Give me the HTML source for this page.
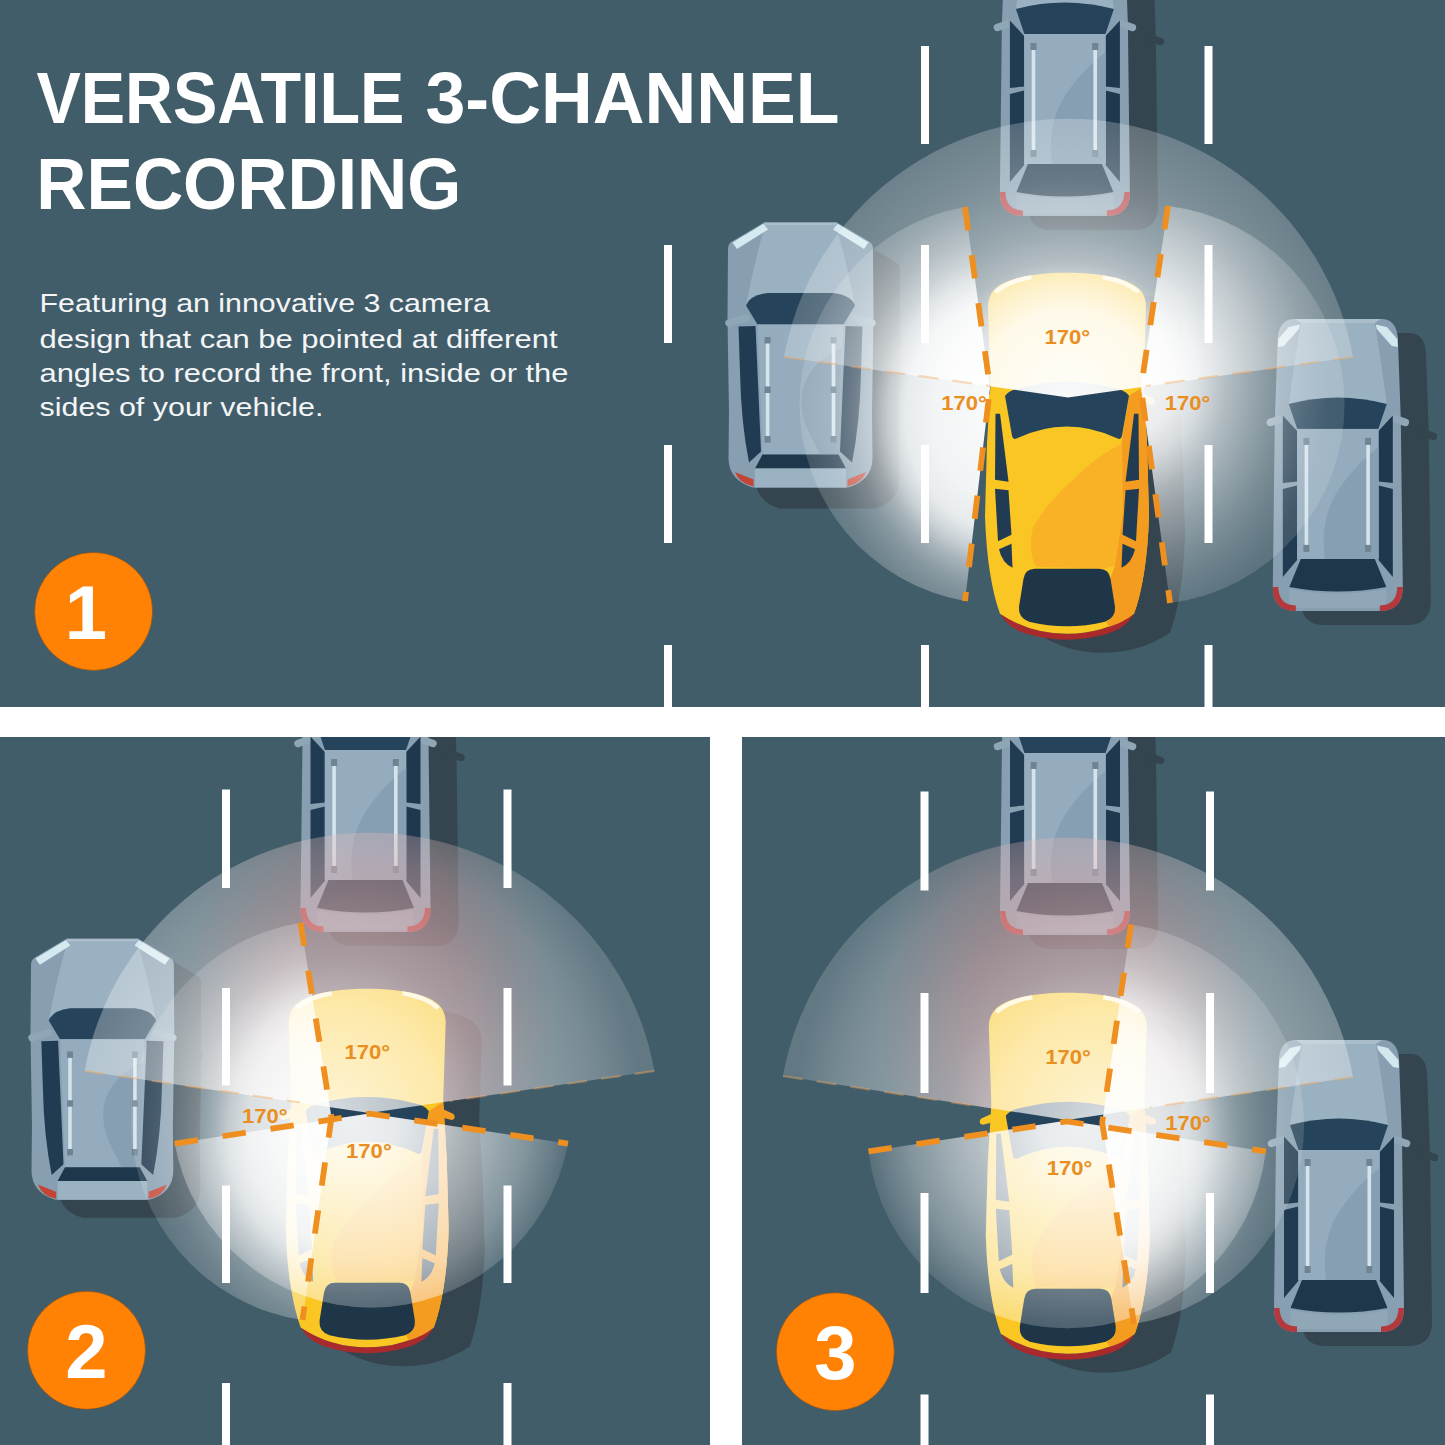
<!DOCTYPE html>
<html lang="en"><head><meta charset="utf-8"><title>Versatile 3-Channel Recording</title>
<style>html,body{margin:0;padding:0;background:#fff;width:1445px;height:1445px;overflow:hidden}svg{display:block}text{font-family:"Liberation Sans",sans-serif}</style></head><body>
<svg width="1445" height="1445" viewBox="0 0 1445 1445">
<defs>
<clipPath id="c1"><rect x="0" y="0" width="1445" height="707"/></clipPath>
<clipPath id="c2"><rect x="0" y="737" width="710" height="708"/></clipPath>
<clipPath id="c3"><rect x="742" y="737" width="703" height="708"/></clipPath>
<g id="wagon"><path d="M20,0 L110,0 Q123,1 125,18 L128,100 L130,268 Q130,292 106,292 L24,292 Q0,292 0,268 L2,100 L5,18 Q7,1 20,0 Z" fill="#879fb1"/>
<path d="M9,99.5 L-2.5,103.5" stroke="#8fa6b7" stroke-width="7.5" stroke-linecap="round" fill="none"/>
<path d="M121,99.5 L132.5,103.5" stroke="#8fa6b7" stroke-width="7.5" stroke-linecap="round" fill="none"/>
<path d="M28,4 L102,4 Q108,40 114,85 Q65,73 16,85 Q22,40 28,4 Z" fill="#9ab1c1"/>
<path d="M22,0 L108,0 L102,4 L28,4 Z" fill="#a9bdcb"/>
<polygon points="5.0,28.0 5.5,20.0 16.0,8.0 27.0,5.5 26.0,10.0 11.0,27.0" fill="#d2e7ee" />
<polygon points="125.0,28.0 124.5,20.0 114.0,8.0 103.0,5.5 104.0,10.0 119.0,27.0" fill="#d2e7ee" />
<path d="M16,85 Q65,72 114,85 L105.5,110 L24.5,110 Z" fill="#25435a"/>
<polygon points="10.0,96.5 24.3,112.0 24.3,162.5 10.0,164.0" fill="#213c52" />
<polygon points="120.0,96.5 105.7,112.0 105.7,162.5 120.0,164.0" fill="#1f384d" />
<polygon points="10.0,170.0 24.3,166.5 24.3,241.0 10.0,258.0" fill="#213c52" />
<polygon points="120.0,170.0 105.7,166.5 105.7,241.0 120.0,258.0" fill="#1f384d" />
<rect x="24.3" y="110" width="81.4" height="130" fill="#94acbd"/>
<path d="M105.7,128 C90,140 76,155 65,172 C52,192 49,215 52,240 L105.7,240 Z" fill="#879fb2"/>
<rect x="31.8" y="124" width="3.6" height="104" fill="#d5e3eb"/>
<rect x="30.6" y="119" width="6" height="7" fill="#6f8493"/>
<rect x="30.6" y="226" width="6" height="7" fill="#6f8493"/>
<rect x="93.5" y="124" width="3.6" height="104" fill="#d5e3eb"/>
<rect x="92.3" y="119" width="6" height="7" fill="#6f8493"/>
<rect x="92.3" y="226" width="6" height="7" fill="#6f8493"/>
<path d="M28,240 L102,240 L113.5,268 Q65,277 16.5,268 Z" fill="#1e374b"/>
<path d="M16.5,270 Q65,279 113.5,270 L113.5,289 L16.5,289 Z" fill="#90a7b8"/>
<path d="M0,268 Q0,292 23,292 L23,286.5 Q6,286 5.5,268 Z" fill="#b4393c"/>
<path d="M130,268 Q130,292 107,292 L107,286.5 Q124,286 124.5,268 Z" fill="#b4393c"/></g>
<g id="wagonS"><path d="M20,0 L110,0 Q123,1 125,18 L128,100 L130,268 Q130,292 106,292 L24,292 Q0,292 0,268 L2,100 L5,18 Q7,1 20,0 Z"/><path d="M121,99.5 L132.5,103.5" stroke="#34454f" stroke-width="7.5" stroke-linecap="round" fill="none"/></g>
<g id="hatch"><path d="M36,0 L109,0 L141,19 Q145,21 145,27 L145.5,97 L144,190 L144.5,236 Q144,258 120,265 L25,265 Q1,258 0.5,236 L1,190 L-0.5,97 L0,27 Q0,21 4,19 Z" fill="#879fb1"/>
<path d="M18,95.5 L1,100.5" stroke="#8fa6b7" stroke-width="7.5" stroke-linecap="round" fill="none"/>
<path d="M127,95.5 L144,100.5" stroke="#8fa6b7" stroke-width="7.5" stroke-linecap="round" fill="none"/>
<path d="M37,3 L108,3 Q120,45 127,83 Q122,72 105,70.5 L40,70.5 Q23,72 18,83 Q25,45 37,3 Z" fill="#9ab1c1"/>
<path d="M36,0 L109,0 L108,3 L37,3 Z" fill="#a9bdcb"/>
<polygon points="4.5,20.0 35.5,1.2 40.0,7.0 9.0,26.5" fill="#d5eaf0" />
<polygon points="140.5,20.0 109.5,1.2 105.0,7.0 136.0,26.5" fill="#d5eaf0" />
<path d="M18,83 Q22,72.5 40,70.5 L105,70.5 Q123,72.5 127,83 L115.5,102 L29.5,102 Z" fill="#25435a"/>
<path d="M10.5,104 L27.5,103.5 L33,229 L21,240 Q13,200 12,150 Z" fill="#213c52"/>
<path d="M134.5,104 L117.5,103.5 L112,229 L124,240 Q132,200 133,150 Z" fill="#1f384d"/>
<path d="M29.5,102 L115.5,102 L110.5,232 L34.5,232 Z" fill="#94acbd"/>
<path d="M114,125 C92,135 78,150 74,170 C70,195 84,215 92,232 L110.5,232 Z" fill="#879fb2"/>
<rect x="37.8" y="120" width="3.6" height="94" fill="#d5e3eb"/>
<rect x="36.6" y="114.5" width="6" height="6.5" fill="#6f8493"/>
<rect x="36.6" y="164" width="6" height="6.5" fill="#6f8493"/>
<rect x="36.6" y="213.5" width="6" height="6.5" fill="#6f8493"/>
<rect x="103.7" y="120" width="3.6" height="94" fill="#d5e3eb"/>
<rect x="102.5" y="114.5" width="6" height="6.5" fill="#6f8493"/>
<rect x="102.5" y="164" width="6" height="6.5" fill="#6f8493"/>
<rect x="102.5" y="213.5" width="6" height="6.5" fill="#6f8493"/>
<path d="M34.5,232 L110.5,232 L118,246 L27,246 Z" fill="#1e374b"/>
<path d="M27,246 L118,246 L118,265 L27,265 Z" fill="#9bb2c2"/>
<path d="M7,249.5 L25.5,257 L25.5,264 Q11,261 7,249.5 Z" fill="#c44535"/>
<path d="M138,249.5 L119.5,257 L119.5,264 Q134,261 138,249.5 Z" fill="#c44535"/></g>
<g id="hatchS"><path d="M36,0 L109,0 L141,19 Q145,21 145,27 L145.5,97 L144,190 L144.5,236 Q144,258 120,265 L25,265 Q1,258 0.5,236 L1,190 L-0.5,97 L0,27 Q0,21 4,19 Z"/><path d="M127,95.5 L144,100.5" stroke="#34454f" stroke-width="7.5" stroke-linecap="round" fill="none"/></g>
<g id="ycar"><path d="M13,335 Q18,353 40,360.5 Q82,373.5 124,360.5 Q146,353 151,335 L149,341 Q119,361 82,361 Q45,361 15,341 Z" fill="#a82a2d"/>
<path d="M82,0 C50,0 22,5 10,16 Q3,23 3,34 L5.5,112 L2,170 L0,243 Q1,275 5,300 Q9,325 15,341 Q45,361 82,361 Q119,361 149,341 Q155,325 159,300 Q163,275 164,243 L162,170 L158.5,112 L161,34 Q161,23 154,16 C142,5 114,0 82,0 Z" fill="#f9c623"/>
<path d="M9,18 Q22,6 46,2.5 L47,6.5 Q25,10 12,21 Z" fill="#fff3cf"/>
<path d="M155,18 Q142,6 118,2.5 L117,6.5 Q139,10 152,21 Z" fill="#fff3cf"/>
<path d="M6,121 L-5,126 Q-8,131 -3,132 L5,130 Z" fill="#f9c623"/>
<path d="M158,121 L169,126 Q172,131 167,132 L159,130 Z" fill="#f39c1f"/>
<path d="M137,167 L144,123 L158.5,114 L162,170 L164,243 Q163,275 159,300 Q155,325 149,341 Q138,350 124,354 L121,349 Q131,345 130,334 L125,306 L130,293 Z" fill="#f39c1f"/>
<path d="M137,171 C112,183 98,198 91,204 C72,222 58,236 48,255 C44,270 46,285 51,294 L118,296 L130,293 L138,240 Z" fill="#f9b226"/>
<path d="M20,123 Q24,117 36,115 Q82,103 128,115 Q140,117 144,123 L137,163 Q136,167.5 132,165.5 Q82,142 32,165.5 Q28,167.5 27,163 Z" fill="#25435a"/>
<path d="M10.5,141 L15,141 L23.5,209 L10,207 Z" fill="#213c52"/><path d="M10,216 L23.5,217.5 L26.5,262 L13,268.5 Z" fill="#213c52"/><path d="M14,276.5 L26.5,271 L27.5,295 Q17,290 14,276.5 Z" fill="#213c52"/>
<path d="M153.5,141 L149,141 L140.5,209 L154,207 Z" fill="#213c52"/><path d="M154,216 L140.5,217.5 L137.5,262 L151,268.5 Z" fill="#213c52"/><path d="M150,276.5 L137.5,271 L136.5,295 Q147,290 150,276.5 Z" fill="#213c52"/>
<path d="M50,296 L114,296 Q124,296 125.5,306 L130,334 Q131,345 120,349 Q82,358 44,349 Q33,345 34,334 L38.5,306 Q40,296 50,296 Z" fill="#1e3648"/></g>
<g id="ycarS"><path d="M82,0 C50,0 22,5 10,16 Q3,23 3,34 L5.5,112 L2,170 L0,243 Q1,275 5,300 Q9,325 15,341 Q45,361 82,361 Q119,361 149,341 Q155,325 159,300 Q163,275 164,243 L162,170 L158.5,112 L161,34 Q161,23 154,16 C142,5 114,0 82,0 Z"/></g>
<g id="ycarRW"><path d="M50,296 L114,296 Q124,296 125.5,306 L130,334 Q131,345 120,349 Q82,358 44,349 Q33,345 34,334 L38.5,306 Q40,296 50,296 Z"/></g>
<radialGradient id="g1f" gradientUnits="userSpaceOnUse" cx="1068" cy="397" r="289"><stop offset="0" stop-color="#fff" stop-opacity="0.97"/><stop offset="0.3" stop-color="#fff" stop-opacity="0.9"/><stop offset="0.4" stop-color="#fff" stop-opacity="0.75"/><stop offset="0.47" stop-color="#fff" stop-opacity="0.6"/><stop offset="0.58" stop-color="#fff" stop-opacity="0.47"/><stop offset="0.75" stop-color="#fff" stop-opacity="0.33"/><stop offset="1" stop-color="#fff" stop-opacity="0.21"/></radialGradient>
<radialGradient id="g1l" gradientUnits="userSpaceOnUse" cx="1000" cy="415" r="225" gradientTransform="translate(1000,415) scale(1,1.2) translate(-1000,-415)"><stop offset="0" stop-color="#fff" stop-opacity="0.98"/><stop offset="0.3" stop-color="#fff" stop-opacity="0.93"/><stop offset="0.42" stop-color="#fff" stop-opacity="0.88"/><stop offset="0.5" stop-color="#fff" stop-opacity="0.72"/><stop offset="0.57" stop-color="#fff" stop-opacity="0.52"/><stop offset="0.65" stop-color="#fff" stop-opacity="0.36"/><stop offset="0.77" stop-color="#fff" stop-opacity="0.22"/><stop offset="0.87" stop-color="#fff" stop-opacity="0.15"/><stop offset="1" stop-color="#fff" stop-opacity="0.12"/></radialGradient>
<radialGradient id="g1r" gradientUnits="userSpaceOnUse" cx="1131" cy="380" r="225" gradientTransform="translate(1131,380) scale(1,1.2) translate(-1131,-380)"><stop offset="0" stop-color="#fff" stop-opacity="0.95"/><stop offset="0.2" stop-color="#fff" stop-opacity="0.9"/><stop offset="0.3" stop-color="#fff" stop-opacity="0.8"/><stop offset="0.42" stop-color="#fff" stop-opacity="0.6"/><stop offset="0.5" stop-color="#fff" stop-opacity="0.5"/><stop offset="0.57" stop-color="#fff" stop-opacity="0.42"/><stop offset="0.65" stop-color="#fff" stop-opacity="0.33"/><stop offset="0.77" stop-color="#fff" stop-opacity="0.22"/><stop offset="0.87" stop-color="#fff" stop-opacity="0.15"/><stop offset="1" stop-color="#fff" stop-opacity="0.12"/></radialGradient>
<radialGradient id="g2f" gradientUnits="userSpaceOnUse" cx="335" cy="1110" r="305"><stop offset="0" stop-color="#fff" stop-opacity="0.8"/><stop offset="0.15" stop-color="#fff" stop-opacity="0.72"/><stop offset="0.33" stop-color="#fff" stop-opacity="0.62"/><stop offset="0.5" stop-color="#fff" stop-opacity="0.47"/><stop offset="0.7" stop-color="#fff" stop-opacity="0.36"/><stop offset="0.85" stop-color="#fff" stop-opacity="0.29"/><stop offset="1" stop-color="#fff" stop-opacity="0.17"/></radialGradient>
<radialGradient id="g2l" gradientUnits="userSpaceOnUse" cx="341" cy="1130" r="225" gradientTransform="translate(341,1130) scale(1,1.2) translate(-341,-1130)"><stop offset="0" stop-color="#fff" stop-opacity="0.9"/><stop offset="0.3" stop-color="#fff" stop-opacity="0.86"/><stop offset="0.42" stop-color="#fff" stop-opacity="0.8"/><stop offset="0.5" stop-color="#fff" stop-opacity="0.68"/><stop offset="0.57" stop-color="#fff" stop-opacity="0.5"/><stop offset="0.65" stop-color="#fff" stop-opacity="0.35"/><stop offset="0.77" stop-color="#fff" stop-opacity="0.22"/><stop offset="0.87" stop-color="#fff" stop-opacity="0.15"/><stop offset="1" stop-color="#fff" stop-opacity="0.12"/></radialGradient>
<radialGradient id="g2r" gradientUnits="userSpaceOnUse" cx="355" cy="1113.5" r="215"><stop offset="0" stop-color="#fff" stop-opacity="0.9"/><stop offset="0.2" stop-color="#fff" stop-opacity="0.85"/><stop offset="0.45" stop-color="#fff" stop-opacity="0.64"/><stop offset="0.63" stop-color="#fff" stop-opacity="0.5"/><stop offset="0.82" stop-color="#fff" stop-opacity="0.33"/><stop offset="1" stop-color="#fff" stop-opacity="0.12"/></radialGradient>
<radialGradient id="g3f" gradientUnits="userSpaceOnUse" cx="1100" cy="1117" r="305"><stop offset="0" stop-color="#fff" stop-opacity="0.8"/><stop offset="0.15" stop-color="#fff" stop-opacity="0.72"/><stop offset="0.33" stop-color="#fff" stop-opacity="0.62"/><stop offset="0.5" stop-color="#fff" stop-opacity="0.47"/><stop offset="0.7" stop-color="#fff" stop-opacity="0.36"/><stop offset="0.85" stop-color="#fff" stop-opacity="0.29"/><stop offset="1" stop-color="#fff" stop-opacity="0.17"/></radialGradient>
<radialGradient id="g3s" gradientUnits="userSpaceOnUse" cx="1093" cy="1135" r="225" gradientTransform="translate(1093,1135) scale(1,1.2) translate(-1093,-1135)"><stop offset="0" stop-color="#fff" stop-opacity="0.9"/><stop offset="0.3" stop-color="#fff" stop-opacity="0.86"/><stop offset="0.42" stop-color="#fff" stop-opacity="0.8"/><stop offset="0.5" stop-color="#fff" stop-opacity="0.68"/><stop offset="0.57" stop-color="#fff" stop-opacity="0.5"/><stop offset="0.65" stop-color="#fff" stop-opacity="0.35"/><stop offset="0.77" stop-color="#fff" stop-opacity="0.22"/><stop offset="0.87" stop-color="#fff" stop-opacity="0.15"/><stop offset="1" stop-color="#fff" stop-opacity="0.12"/></radialGradient>
<radialGradient id="g3r" gradientUnits="userSpaceOnUse" cx="1082" cy="1120.5" r="215"><stop offset="0" stop-color="#fff" stop-opacity="0.9"/><stop offset="0.2" stop-color="#fff" stop-opacity="0.85"/><stop offset="0.45" stop-color="#fff" stop-opacity="0.64"/><stop offset="0.63" stop-color="#fff" stop-opacity="0.5"/><stop offset="0.82" stop-color="#fff" stop-opacity="0.33"/><stop offset="1" stop-color="#fff" stop-opacity="0.12"/></radialGradient>
<radialGradient id="warm2" gradientUnits="userSpaceOnUse" cx="368" cy="1015" r="235" gradientTransform="translate(368,1015) scale(0.8,1) translate(-368,-1015)"><stop offset="0" stop-color="#a80000" stop-opacity="0.28"/><stop offset="0.5" stop-color="#a80000" stop-opacity="0.26"/><stop offset="0.8" stop-color="#a80000" stop-opacity="0.10"/><stop offset="1" stop-color="#a80000" stop-opacity="0"/></radialGradient>
<radialGradient id="warm3" gradientUnits="userSpaceOnUse" cx="1067" cy="1020" r="235" gradientTransform="translate(1067,1020) scale(0.8,1) translate(-1067,-1020)"><stop offset="0" stop-color="#a80000" stop-opacity="0.28"/><stop offset="0.5" stop-color="#a80000" stop-opacity="0.26"/><stop offset="0.8" stop-color="#a80000" stop-opacity="0.10"/><stop offset="1" stop-color="#a80000" stop-opacity="0"/></radialGradient>
<linearGradient id="cabin2" gradientUnits="userSpaceOnUse" x1="0" y1="126" x2="0" y2="326"><stop offset="0" stop-color="#fff" stop-opacity="0.25"/><stop offset="0.3" stop-color="#fff" stop-opacity="0.38"/><stop offset="0.75" stop-color="#fff" stop-opacity="0.38"/><stop offset="1" stop-color="#fff" stop-opacity="0.25"/></linearGradient>
<linearGradient id="cabin3" gradientUnits="userSpaceOnUse" x1="0" y1="127" x2="0" y2="327"><stop offset="0" stop-color="#fff" stop-opacity="0.25"/><stop offset="0.3" stop-color="#fff" stop-opacity="0.38"/><stop offset="0.75" stop-color="#fff" stop-opacity="0.38"/><stop offset="1" stop-color="#fff" stop-opacity="0.25"/></linearGradient>
</defs>
<rect width="1445" height="1445" fill="#fff"/>
<g clip-path="url(#c1)">
<rect x="0" y="0" width="1445" height="707" fill="#425d6a"/>
<rect x="664.0" y="245" width="8" height="98" fill="#fff"/><rect x="664.0" y="445" width="8" height="98" fill="#fff"/><rect x="664.0" y="645" width="8" height="65" fill="#fff"/>
<rect x="921.0" y="46" width="8" height="98" fill="#fff"/><rect x="921.0" y="245" width="8" height="98" fill="#fff"/><rect x="921.0" y="445" width="8" height="98" fill="#fff"/><rect x="921.0" y="645" width="8" height="65" fill="#fff"/>
<rect x="1204.5" y="46" width="8" height="98" fill="#fff"/><rect x="1204.5" y="245" width="8" height="98" fill="#fff"/><rect x="1204.5" y="445" width="8" height="98" fill="#fff"/><rect x="1204.5" y="645" width="8" height="65" fill="#fff"/>
<g fill="#34454f">
<use href="#wagonS" transform="translate(1027.9,-62)" />
<use href="#wagonS" transform="translate(1300.8,332.9)" />
<use href="#hatchS" transform="translate(755,243.5)" />
<use href="#ycarS" transform="translate(1021,291.8)" />
</g>
<use href="#wagon" transform="translate(999.9,-76)" />
<use href="#wagon" transform="translate(1272.8,318.9)" />
<use href="#hatch" transform="translate(728,222.5)" />
<use href="#ycar" transform="translate(985,272.8)" />
<path d="M1068,397.5 L784,357 A289,289 0 0 1 1353,357 Z" fill="url(#g1f)"/>
<path d="M990,388 L965,207 A200,200 0 0 0 965,601 Z" fill="url(#g1l)"/>
<path d="M1141,388 L1168,206 A200,200 0 0 1 1170,603 Z" fill="url(#g1r)"/>
<path d="M784,357 L990,386" fill="none" stroke="#f3a95a" stroke-width="2.2" stroke-dasharray="20 14" stroke-opacity="0.42"/>
<path d="M1353,357 L1146,386" fill="none" stroke="#f3a95a" stroke-width="2.2" stroke-dasharray="20 14" stroke-opacity="0.42"/>
<path d="M965.0,207.0 L990.0,388.0 L965.0,601.0" fill="none" stroke="#ee8f1f" stroke-width="5.8" stroke-dasharray="23.5 25" stroke-opacity="1"/>
<path d="M1168.0,206.0 L1141.0,388.0 L1170.0,603.0" fill="none" stroke="#ee8f1f" stroke-width="5.8" stroke-dasharray="23.5 25" stroke-opacity="1"/>
<text x="1044.5" y="343.6" font-family="'Liberation Sans', sans-serif" font-weight="700" font-size="21" fill="#e98f22" textLength="45.6" lengthAdjust="spacingAndGlyphs">170°</text>
<text x="941.2" y="409.5" font-family="'Liberation Sans', sans-serif" font-weight="700" font-size="21" fill="#e98f22" textLength="45.6" lengthAdjust="spacingAndGlyphs">170°</text>
<text x="1164.7" y="409.5" font-family="'Liberation Sans', sans-serif" font-weight="700" font-size="21" fill="#e98f22" textLength="45.6" lengthAdjust="spacingAndGlyphs">170°</text>
<text y="123.1" font-weight="700" font-size="72.5" fill="#fff"><tspan x="36.4" textLength="368" lengthAdjust="spacingAndGlyphs">VERSATILE</tspan> <tspan x="425.5" textLength="414" lengthAdjust="spacingAndGlyphs">3-CHANNEL</tspan></text>
<text x="36.3" y="209.3" font-weight="700" font-size="72.5" fill="#fff" textLength="425" lengthAdjust="spacingAndGlyphs">RECORDING</text>
<text x="39.5" y="312.2" font-size="26.5" fill="#f3f5f6" textLength="450.5" lengthAdjust="spacingAndGlyphs">Featuring an innovative 3 camera</text>
<text x="39.5" y="347.5" font-size="26.5" fill="#f3f5f6" textLength="518" lengthAdjust="spacingAndGlyphs">design that can be pointed at different</text>
<text x="39.5" y="381.6" font-size="26.5" fill="#f3f5f6" textLength="529" lengthAdjust="spacingAndGlyphs">angles to record the front, inside or the</text>
<text x="39.5" y="415.7" font-size="26.5" fill="#f3f5f6" textLength="284" lengthAdjust="spacingAndGlyphs">sides of your vehicle.</text>
<circle cx="93.6" cy="611.4" r="59" fill="#ff8205" stroke="#7a4a1c" stroke-opacity="0.55" stroke-width="1"/><text x="86.0" y="639.0" text-anchor="middle" font-family="'Liberation Sans', sans-serif" font-weight="700" font-size="76" fill="#fff">1</text>
</g>
<g clip-path="url(#c2)">
<rect x="0" y="737" width="710" height="708" fill="#425d6a"/>
<g fill="#34454f">
<use href="#wagonS" transform="translate(328.5,654)" />
<use href="#hatchS" transform="translate(58,956.7) scale(0.985)" />
<use href="#ycarS" transform="translate(321.8,1007.8) scale(0.993)" />
</g>
<use href="#wagon" transform="translate(300.5,640)" />
<use href="#hatch" transform="translate(31,938.7) scale(0.985)" />
<path d="M369.5,1113 L84.6,1070.9 A289.5,289.5 0 0 1 654.4,1070.9 Z" fill="url(#warm2)"/>
<rect x="222.0" y="789.5" width="8" height="98.5" fill="#fff"/><rect x="222.0" y="988" width="8" height="97.5" fill="#fff"/><rect x="222.0" y="1185.5" width="8" height="97.5" fill="#fff"/><rect x="222.0" y="1383" width="8" height="63" fill="#fff"/>
<rect x="503.5" y="789.5" width="8" height="98.5" fill="#fff"/><rect x="503.5" y="988" width="8" height="97.5" fill="#fff"/><rect x="503.5" y="1185.5" width="8" height="97.5" fill="#fff"/><rect x="503.5" y="1383" width="8" height="63" fill="#fff"/>
<use href="#ycar" transform="translate(285.8,988.8) scale(0.993)" />
<path d="M369.5,1113 L84.6,1070.9 A289.5,289.5 0 0 1 654.4,1070.9 Z" fill="url(#g2f)"/>
<path d="M331.5,1117.5 L300.5,922.7 A201,201 0 0 0 302.5,1320 Z" fill="url(#g2l)"/>
<path d="M369.5,1113.5 L174.6,1143.6 A200,200 0 0 0 568,1143.6 Z" fill="url(#g2r)"/>
<clipPath id="cr2"><path d="M369.5,1113.5 L174.6,1143.6 A200,200 0 0 0 568,1143.6 Z"/></clipPath><g clip-path="url(#cr2)"><use href="#ycarS" transform="translate(285.8,988.8) scale(0.993)" fill="url(#cabin2)"/><use href="#ycarRW" transform="translate(285.8,988.8) scale(0.993)" fill="#1e3648" fill-opacity="0.4"/></g>
<path d="M84.6,1070.9 L300,1102.5" fill="none" stroke="#f3a95a" stroke-width="2.2" stroke-dasharray="20 14" stroke-opacity="0.42"/>
<path d="M654.4,1070.9 L450,1101" fill="none" stroke="#f3a95a" stroke-width="2.2" stroke-dasharray="20 14" stroke-opacity="0.42"/>
<path d="M300.5,922.7 L331.5,1117.5 L302.5,1320.0" fill="none" stroke="#ee8f1f" stroke-width="5.8" stroke-dasharray="23.5 25" stroke-opacity="1"/>
<path d="M174.6,1143.6 L369.5,1113.7 L568.0,1143.6" fill="none" stroke="#ee8f1f" stroke-width="5.8" stroke-dasharray="23.5 25" stroke-opacity="1"/>
<text x="344.5" y="1059" font-family="'Liberation Sans', sans-serif" font-weight="700" font-size="21" fill="#e98f22" textLength="45.6" lengthAdjust="spacingAndGlyphs">170°</text>
<text x="346.1" y="1158" font-family="'Liberation Sans', sans-serif" font-weight="700" font-size="21" fill="#e98f22" textLength="45.6" lengthAdjust="spacingAndGlyphs">170°</text>
<text x="241.9" y="1123" font-family="'Liberation Sans', sans-serif" font-weight="700" font-size="21" fill="#e98f22" textLength="45.6" lengthAdjust="spacingAndGlyphs">170°</text>
<circle cx="86.5" cy="1350.3" r="59" fill="#ff8205" stroke="#7a4a1c" stroke-opacity="0.55" stroke-width="1"/><text x="86.5" y="1377.8999999999999" text-anchor="middle" font-family="'Liberation Sans', sans-serif" font-weight="700" font-size="76" fill="#fff">2</text>
</g>
<g clip-path="url(#c3)">
<rect x="742" y="737" width="703" height="708" fill="#425d6a"/>
<g fill="#34454f">
<use href="#wagonS" transform="translate(1028,657)" />
<use href="#wagonS" transform="translate(1302,1054)" />
<use href="#ycarS" transform="translate(1021.8,1011.7)" />
</g>
<use href="#wagon" transform="translate(1000,643)" />
<use href="#wagon" transform="translate(1274,1040)" />
<path d="M1067,1120 L783,1076 A289.5,289.5 0 0 1 1353,1077 Z" fill="url(#warm3)"/>
<rect x="920.5" y="791.5" width="8" height="99.0" fill="#fff"/><rect x="920.5" y="993" width="8" height="100" fill="#fff"/><rect x="920.5" y="1193" width="8" height="100" fill="#fff"/><rect x="920.5" y="1394.5" width="8" height="51.5" fill="#fff"/>
<rect x="1206.0" y="791.5" width="8" height="99.0" fill="#fff"/><rect x="1206.0" y="993" width="8" height="100" fill="#fff"/><rect x="1206.0" y="1193" width="8" height="100" fill="#fff"/><rect x="1206.0" y="1394.5" width="8" height="51.5" fill="#fff"/>
<use href="#ycar" transform="translate(985.8,992.7)" />
<path d="M1067,1120 L783,1076 A289.5,289.5 0 0 1 1353,1077 Z" fill="url(#g3f)"/>
<path d="M1102.2,1122.6 L1131,924.6 A202,202 0 0 1 1134,1324 Z" fill="url(#g3s)"/>
<path d="M1067,1120.5 L868.5,1151.4 A200,200 0 0 0 1265.8,1151.4 Z" fill="url(#g3r)"/>
<clipPath id="cr3"><path d="M1067,1120.5 L868.5,1151.4 A200,200 0 0 0 1265.8,1151.4 Z"/></clipPath><g clip-path="url(#cr3)"><use href="#ycarS" transform="translate(985.8,992.7)" fill="url(#cabin3)"/><use href="#ycarRW" transform="translate(985.8,992.7)" fill="#1e3648" fill-opacity="0.4"/></g>
<path d="M783,1076 L985,1107.5" fill="none" stroke="#f3a95a" stroke-width="2.2" stroke-dasharray="20 14" stroke-opacity="0.42"/>
<path d="M1353,1077 L1150,1107.5" fill="none" stroke="#f3a95a" stroke-width="2.2" stroke-dasharray="20 14" stroke-opacity="0.42"/>
<path d="M1131.0,924.6 L1102.2,1122.6 L1134.0,1324.0" fill="none" stroke="#ee8f1f" stroke-width="5.8" stroke-dasharray="23.5 25" stroke-opacity="1"/>
<path d="M868.5,1151.4 L1067.0,1121.5 L1265.8,1151.4" fill="none" stroke="#ee8f1f" stroke-width="5.8" stroke-dasharray="23.5 25" stroke-opacity="1"/>
<text x="1045.2" y="1064.3" font-family="'Liberation Sans', sans-serif" font-weight="700" font-size="21" fill="#e98f22" textLength="45.6" lengthAdjust="spacingAndGlyphs">170°</text>
<text x="1046.7" y="1175.4" font-family="'Liberation Sans', sans-serif" font-weight="700" font-size="21" fill="#e98f22" textLength="45.6" lengthAdjust="spacingAndGlyphs">170°</text>
<text x="1165.2" y="1130" font-family="'Liberation Sans', sans-serif" font-weight="700" font-size="21" fill="#e98f22" textLength="45.6" lengthAdjust="spacingAndGlyphs">170°</text>
<circle cx="835.3" cy="1351.7" r="59" fill="#ff8205" stroke="#7a4a1c" stroke-opacity="0.55" stroke-width="1"/><text x="835.3" y="1379.3" text-anchor="middle" font-family="'Liberation Sans', sans-serif" font-weight="700" font-size="76" fill="#fff">3</text>
</g>
</svg></body></html>
